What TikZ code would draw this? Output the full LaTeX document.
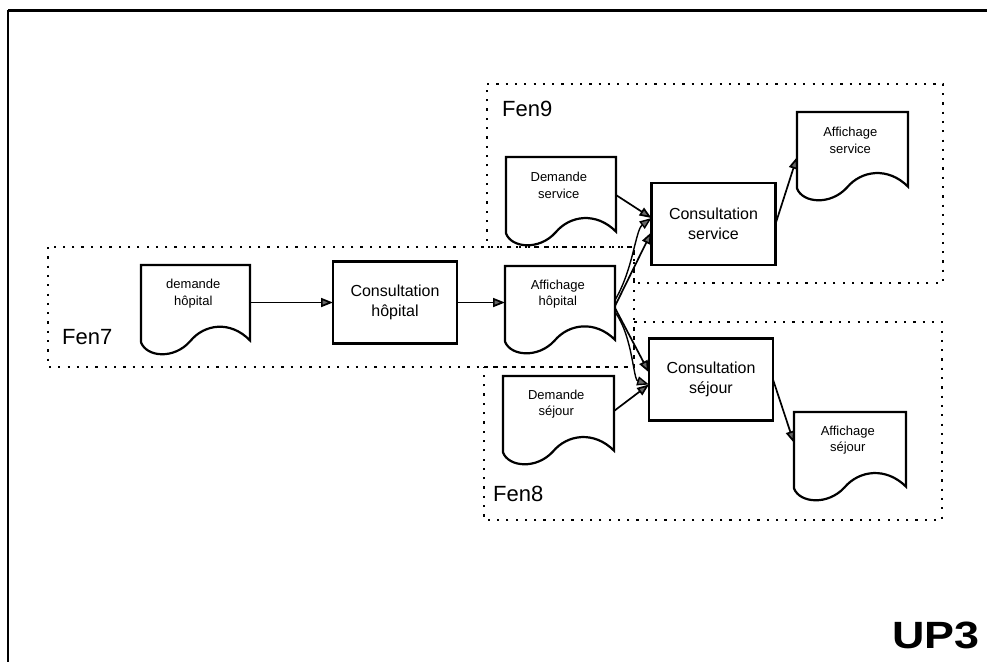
\documentclass[tikz,border=0pt]{standalone}
\usepackage{fontspec}
\setmainfont{Liberation Sans}
\usetikzlibrary{arrows.meta,calc}
\tikzset{
 boxline/.style={line width=2.2pt, draw=black, line cap=round, line join=miter},
 procbox/.style={draw, line width=2.2pt, minimum width=124pt, minimum height=82pt, inner sep=0pt, outer sep=0pt, align=center, font=\fontsize{16}{20}\selectfont},
 docfit/.style={inner sep=0pt, outer sep=0pt},
 doctext/.style={align=center, inner sep=0pt, font=\fontsize{13}{16.5}\selectfont},
 fenlabel/.style={font=\fontsize{22}{22}\selectfont, anchor=west, inner sep=0pt},
 fenzone/.style={line width=2.2pt, dash pattern=on 2.2pt off 7.1pt},
 arr/.style={line width=1.7pt, -{Triangle[length=12pt,width=9pt,fill=black!60]}},
 curvearr/.style={line width=1.4pt, -{Triangle[length=12pt,width=9pt,fill=black!60]}},
}
\newcommand\docshape[6]{%
 \node[docfit, minimum width=#4pt, minimum height=#5pt, anchor=north west] (#1) at (#2,#3) {};
 \draw[boxline] (#2,#3+0.84*#5) -- (#2,#3) -- (#2+#4,#3) -- (#2+#4,#3+0.82*#5)
   .. controls (#2+0.82*#4,#3+0.6*#5) and (#2+0.58*#4,#3+0.64*#5) .. (#2+0.45*#4,#3+0.83*#5)
   .. controls (#2+0.3*#4,#3+1.03*#5) and (#2+0.05*#4,#3+1.0*#5) .. (#2,#3+0.84*#5);
 \node[doctext] (#1t) at (#2+0.48*#4,#3+0.31*#5) {#6};
}
\begin{document}
\begin{tikzpicture}[x=1pt,y=-1pt]
\useasboundingbox (0,0) rectangle (987,662);
% frame
\draw[line width=3pt] (8,10) -- (987,10);
\draw[line width=2.2pt] (8,10) -- (8,662);
% zones
\draw[fenzone] (48,247) rectangle (634,367);
\draw[fenzone] (487,84) -- (943,84) -- (943,283) -- (634,283) -- (634,247) -- (487,247) -- cycle;
\draw[fenzone] (484,367) -- (634,367) -- (634,322) -- (942,322) -- (942,520) -- (484,520) -- cycle;
\node[fenlabel] (fen7) at (62,337) {Fen7};
\node[fenlabel] (fen9) at (502,109) {Fen9};
\node[fenlabel] (fen8) at (493,494) {Fen8};
% documents
\docshape{dh}{141}{265}{109}{92}{demande\\hôpital}
\docshape{ah}{505}{266}{110}{90}{Affichage\\hôpital}
\docshape{ds}{506}{157}{110}{91}{Demande\\service}
\docshape{dsj}{503}{376}{111}{91}{Demande\\séjour}
\docshape{as}{797}{112}{111}{91}{Affichage\\service}
\docshape{asj}{794}{412}{112}{91}{Affichage\\séjour}
% processes
\node[procbox] (ch) at (395,302.5) {Consultation\\hôpital};
\node[procbox] (cs) at (713.5,224) {Consultation\\service};
\node[procbox] (csj) at (711,379.5) {Consultation\\séjour};
% connectors
\draw[arr] (dh.east |- ch.west) -- (ch.west);
\draw[arr] (ch.east) -- (ah.west |- ch.east);
\draw[arr] ($(ds.north east)+(0,38)$) -- ([yshift=6pt]cs.west);
\draw[arr] ($(ah.north east)+(0,40)$) -- ([yshift=-8pt]cs.west);
\draw[curvearr] ($(ah.north east)+(0,34)$) .. controls +(18,-30) and +(-16,12) .. ([yshift=6pt]cs.west);
\draw[arr] ($(ah.north east)+(0,42)$) -- ([yshift=7pt]csj.west);
\draw[curvearr] ($(ah.north east)+(0,46)$) .. controls +(18,25) and +(-16,-5) .. ([yshift=-5pt]csj.west);
\draw[arr] ($(dsj.north east)+(0,35)$) -- ([yshift=-5pt]csj.west);
\draw[arr] (cs.east) -- ($(as.north west)+(0,45)$);
\draw[arr] (csj.east) -- ($(asj.north west)+(0,31)$);
% label
\node[font=\bfseries\fontsize{38}{38}\selectfont, inner sep=0pt] (up3) at (936,635) {\scalebox{1.18}[1]{UP3}};
\end{tikzpicture}
\end{document}
